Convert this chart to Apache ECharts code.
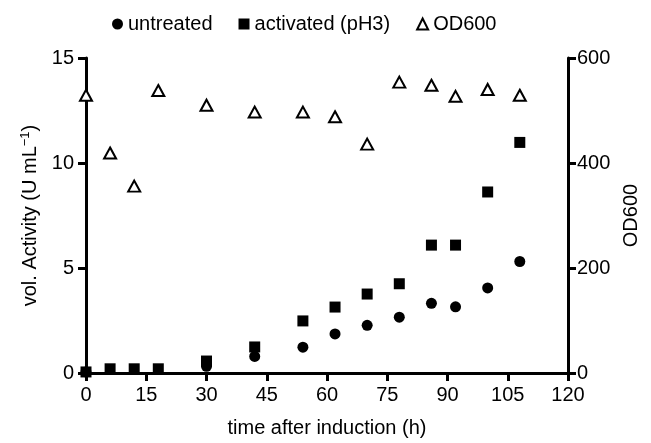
<!DOCTYPE html>
<html>
<head>
<meta charset="utf-8">
<script src="https://cdn.jsdelivr.net/npm/echarts@6/dist/echarts.min.js"></script>
<style>
  html, body { margin: 0; padding: 0; background: #fff; }
  #chart { width: 651px; height: 443px; }
</style>
</head>
<body>
<div id="chart"></div>
<script>
// time points (h)
const timeAct = [0, 6, 12, 18, 30, 42, 54, 62, 70, 78, 86, 92, 100, 108]
const timeUntr = [0, 30, 42, 54, 62, 70, 78, 86, 92, 100, 108]
// vol. activity (U/mL)
const untreated = [0.05, 0.32, 0.79, 1.23, 1.86, 2.27, 2.66, 3.32, 3.15, 4.05, 5.31]
const activated = [0.05, 0.2, 0.2, 0.2, 0.57, 1.24, 2.48, 3.14, 3.76, 4.25, 6.09, 6.09, 8.62, 10.98]
// OD600 (right axis)
const od600 = [529, 419, 356, 538, 510, 497, 497, 488, 436, 554, 548, 527, 540, 529]

const xTicks = [0, 15, 30, 45, 60, 75, 90, 105, 120]

const zip = (xs, ys) => xs.map((x, i) => [x, ys[i]])

const font = '"Liberation Sans", Arial, sans-serif'
const line = () => ({ show: true, lineStyle: { color: '#000', width: 3 } })
const tick = () => ({ show: true, length: 8, lineStyle: { color: '#000', width: 3 } })
const label = (margin) => ({ margin: margin, color: '#000', fontSize: 20, fontFamily: font })

const chart = echarts.init(document.getElementById('chart'))

chart.setOption({
  animation: false,
  backgroundColor: '#fff',
  textStyle: { fontFamily: font },
  legend: {
    top: 9,
    left: 107,
    itemGap: 26,
    itemWidth: 11,
    itemHeight: 11,
    textStyle: { color: '#000', fontSize: 20, fontFamily: font },
    data: [
      { name: 'untreated', icon: 'circle' },
      { name: 'activated (pH3)', icon: 'rect' },
      { name: 'OD600', icon: 'triangle' }
    ]
  },
  grid: { left: 86, right: 83, top: 58, bottom: 62 },
  xAxis: {
    type: 'value',
    min: 0,
    max: 120,
    interval: 15,
    name: 'time after induction (h)',
    nameLocation: 'middle',
    nameGap: 45,
    nameTextStyle: { color: '#000', fontSize: 20, fontFamily: font },
    axisLine: line(),
    axisTick: tick(),
    axisLabel: Object.assign(label(12), { formatter: v => xTicks.includes(v) ? String(v) : '' }),
    splitLine: { show: false }
  },
  yAxis: [{
    type: 'value',
    min: 0,
    max: 15,
    interval: 5,
    position: 'left',
    name: '{a|vol. Activity (U mL}{b|−1}{a|)}',
    nameLocation: 'middle',
    nameRotate: 90,
    nameGap: 31,
    nameTextStyle: {
      color: '#000',
      rich: {
        a: { fontSize: 20, fontFamily: font, color: '#000', lineHeight: 24 },
        b: { fontSize: 13, fontFamily: font, color: '#000', verticalAlign: 'top', lineHeight: 24 }
      }
    },
    axisLine: line(),
    axisTick: tick(),
    axisLabel: label(12),
    splitLine: { show: false }
  }, {
    type: 'value',
    min: 0,
    max: 600,
    interval: 200,
    position: 'right',
    name: 'OD600',
    nameLocation: 'middle',
    nameRotate: 90,
    nameGap: 52,
    nameTextStyle: { color: '#000', fontSize: 20, fontFamily: font },
    axisLine: line(),
    axisTick: tick(),
    axisLabel: label(9),
    splitLine: { show: false }
  }],
  series: [{
    name: 'untreated',
    type: 'scatter',
    yAxisIndex: 0,
    symbol: 'circle',
    symbolSize: 11,
    clip: false,
    itemStyle: { color: '#000', opacity: 1 },
    data: zip(timeUntr, untreated),
    z: 3
  }, {
    name: 'activated (pH3)',
    type: 'scatter',
    yAxisIndex: 0,
    symbol: 'rect',
    symbolSize: 11,
    clip: false,
    itemStyle: { color: '#000', opacity: 1 },
    data: zip(timeAct, activated),
    z: 2
  }, {
    name: 'OD600',
    type: 'scatter',
    yAxisIndex: 1,
    symbol: 'triangle',
    symbolSize: [12, 11],
    clip: false,
    itemStyle: { color: '#fff', borderColor: '#000', borderWidth: 2, opacity: 1 },
    data: zip(timeAct, od600),
    z: 4
  }]
})
</script>
</body>
</html>
